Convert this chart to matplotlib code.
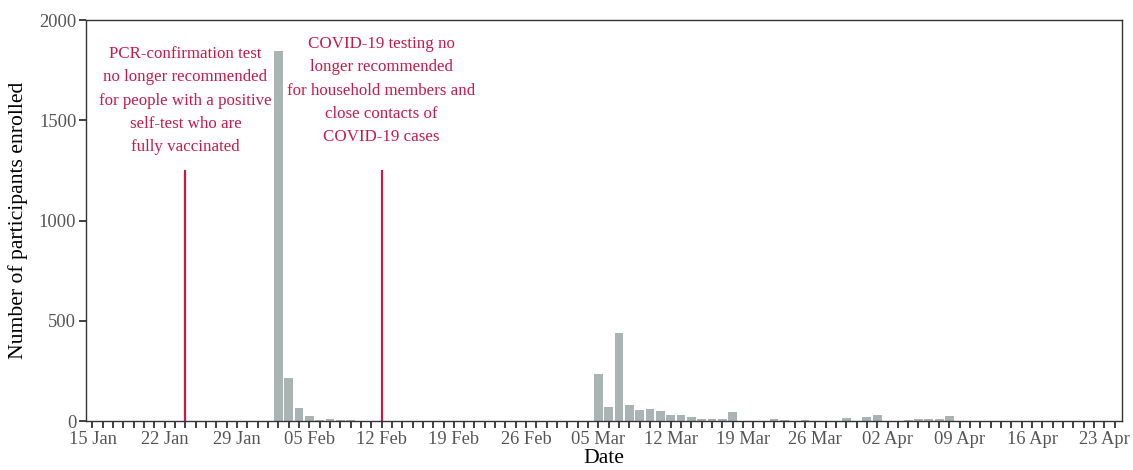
import numpy as np
import pandas as pd
import matplotlib
matplotlib.use("Agg")
import matplotlib.pyplot as plt
import matplotlib.dates as mdates

plt.rcParams['font.family'] = ['Liberation Serif', 'DejaVu Serif']

# daily enrolment (days not listed = 0)
dates = ["2022-02-02", "2022-02-03", "2022-02-04", "2022-02-05", "2022-02-06",
         "2022-02-07", "2022-02-08", "2022-02-09", "2022-02-10",
         "2022-03-05", "2022-03-06", "2022-03-07", "2022-03-08", "2022-03-09",
         "2022-03-10", "2022-03-11", "2022-03-12", "2022-03-13", "2022-03-14",
         "2022-03-15", "2022-03-16", "2022-03-17", "2022-03-18", "2022-03-19",
         "2022-03-22", "2022-03-23", "2022-03-25", "2022-03-28", "2022-03-29",
         "2022-03-31", "2022-04-01", "2022-04-04", "2022-04-05", "2022-04-06",
         "2022-04-07", "2022-04-08"]
counts = [1845, 216, 65, 28, 8,
          12, 5, 4, 3,
          233, 72, 442, 80, 55,
          60, 48, 33, 30, 20,
          10, 12, 10, 47, 2,
          12, 8, 4, 3, 18,
          20, 33, 7, 13, 12,
          11, 28]

# policy changes
event_dates = ["2022-01-24", "2022-02-12"]
event_labels = ["PCR-confirmation test\nno longer recommended\nfor people with a positive\nself-test who are\nfully vaccinated",
                "COVID-19 testing no\nlonger recommended\nfor household members and\nclose contacts of\nCOVID-19 cases"]
event_label_y = [1870, 1920]
line_top = 1250

x = pd.to_datetime(dates)
red = '#C9184A'
grey = '#555555'

fig = plt.figure(figsize=(11.33, 4.70), dpi=100)
ax = fig.add_axes([0.0759, 0.104, 0.914, 0.853])

ax.bar(x, counts, width=0.85, color='#AAB5B3')

for d, lab, ly in zip(event_dates, event_labels, event_label_y):
    dd = pd.Timestamp(d)
    ax.plot([dd, dd], [0, line_top], color=red, lw=1.6)
    ax.text(dd, ly, lab, color=red, fontsize=12.2, ha='center', va='top',
            linespacing=1.6)

start = pd.Timestamp("2022-01-15")
end = pd.Timestamp("2022-04-24")
ax.set_xlim(start - pd.Timedelta(hours=15), end + pd.Timedelta(hours=16))
ax.set_ylim(0, 2000)
ax.set_yticks([0, 500, 1000, 1500, 2000])

week_ticks = pd.date_range(start, end, freq='7D')
ax.set_xticks(week_ticks)
ax.set_xticklabels([d.strftime('%d %b') for d in week_ticks])
ax.xaxis.set_minor_locator(mdates.DayLocator())

for s in ax.spines.values():
    s.set_color('#333333')
    s.set_linewidth(1.0)
ax.tick_params(axis='both', which='both', length=5, width=1.3, color='#333333',
               labelcolor=grey, labelsize=13.3, pad=2)

ax.set_xlabel("Date", fontsize=15.6, labelpad=1)
ax.set_ylabel("Number of participants enrolled", fontsize=15.6, labelpad=8)

fig.savefig("out.png", dpi=100)
